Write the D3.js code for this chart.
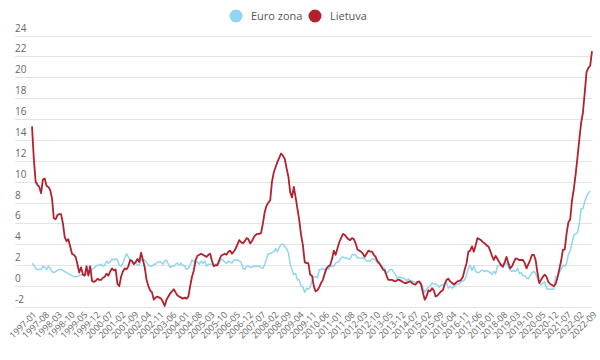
<!DOCTYPE html>
<html>
<head>
<meta charset="utf-8">
<script src="https://cdn.jsdelivr.net/npm/d3@7"></script>
<style>
  body { margin: 0; background: #fff; }
  svg { font-family: "Open Sans", "Noto Sans", sans-serif; }
</style>
</head>
<body>
<div class="chart"></div>
<script>
// monthly annual inflation, 1997-01 .. 2022-09
const startMonth = "1997-01";
const endMonth = "2022-09";
const seriesNames = ["Euro zona", "Lietuva"];
const colors = ["#92d5f0", "#b3202e"];
const yTicks = [-2, 0, 2, 4, 6, 8, 10, 12, 14, 16, 18, 20, 22, 24];
const labelEvery = 7;

const euroZona = [
  2.2, 2.0, 1.7, 1.6, 1.6, 1.6, 1.9, 1.8, 1.6, 1.9, 1.7, 1.4,
  1.3, 1.4, 1.5, 1.6, 1.6, 1.5, 1.4, 1.3, 1.2, 1.1, 1.0, 0.9,
  0.9, 0.9, 1.0, 1.1, 1.1, 1.0, 1.2, 1.3, 1.4, 1.6, 1.7, 1.9,
  2.0, 2.0, 2.1, 1.9, 2.0, 2.4, 2.2, 2.3, 2.6, 2.5, 2.6, 2.5,
  2.0, 1.9, 2.2, 2.7, 3.1, 2.8, 2.5, 2.3, 2.2, 2.3, 2.0, 2.0,
  2.6, 2.4, 2.5, 2.3, 2.0, 1.9, 1.9, 2.1, 2.1, 2.3, 2.3, 2.3,
  2.1, 2.4, 2.5, 2.1, 1.8, 1.9, 1.9, 2.1, 2.2, 2.0, 2.2, 2.0,
  1.9, 1.6, 1.7, 2.0, 2.5, 2.4, 2.3, 2.3, 2.1, 2.4, 2.2, 2.4,
  1.9, 2.1, 2.1, 2.1, 2.0, 2.1, 2.2, 2.2, 2.6, 2.5, 2.3, 2.2,
  2.4, 2.3, 2.2, 2.5, 2.5, 2.5, 2.4, 2.3, 1.7, 1.6, 1.9, 1.9,
  1.8, 1.8, 1.9, 1.9, 1.9, 1.9, 1.8, 1.7, 2.1, 2.6, 3.1, 3.1,
  3.2, 3.3, 3.6, 3.3, 3.7, 4.0, 4.0, 3.8, 3.6, 3.2, 2.1, 1.6,
  1.1, 1.2, 0.6, 0.6, 0.0, -0.1, -0.6, -0.2, -0.3, -0.1, 0.5, 0.9,
  0.9, 0.8, 1.6, 1.6, 1.7, 1.5, 1.7, 1.6, 1.9, 1.9, 1.9, 2.2,
  2.3, 2.4, 2.7, 2.8, 2.7, 2.7, 2.6, 2.6, 3.0, 3.0, 3.0, 2.7,
  2.7, 2.7, 2.7, 2.6, 2.4, 2.4, 2.4, 2.6, 2.6, 2.5, 2.2, 2.2,
  2.0, 1.8, 1.7, 1.2, 1.4, 1.6, 1.6, 1.3, 1.1, 0.7, 0.9, 0.8,
  0.8, 0.7, 0.5, 0.7, 0.5, 0.5, 0.4, 0.4, 0.3, 0.4, 0.3, -0.2,
  -0.6, -0.3, -0.1, 0.0, 0.3, 0.2, 0.2, 0.1, -0.1, 0.1, 0.1, 0.2,
  0.3, -0.2, 0.0, -0.2, -0.1, 0.1, 0.2, 0.2, 0.4, 0.5, 0.6, 1.1,
  1.7, 2.0, 1.5, 1.9, 1.4, 1.3, 1.3, 1.5, 1.5, 1.4, 1.5, 1.4,
  1.3, 1.1, 1.4, 1.2, 1.9, 2.0, 2.1, 2.0, 2.1, 2.2, 1.9, 1.5,
  1.4, 1.5, 1.4, 1.7, 1.2, 1.3, 1.0, 1.0, 0.8, 0.7, 1.0, 1.3,
  1.4, 1.2, 0.7, 0.3, 0.1, 0.3, 0.4, -0.2, -0.3, -0.3, -0.3, -0.3,
  0.9, 0.9, 1.3, 1.6, 2.0, 1.9, 2.2, 3.0, 3.4, 4.1, 4.9, 5.0,
  5.1, 5.9, 7.4, 7.4, 8.1, 8.6, 8.9, 9.1
];

const lietuva = [
  15.3, 12.2, 10.0, 9.7, 9.5, 8.9, 10.2, 10.3, 9.6, 9.5, 9.2, 8.4,
  6.5, 6.4, 6.8, 6.9, 6.9, 6.0, 4.7, 4.3, 4.5, 3.8, 3.1, 3.0,
  2.8, 2.1, 1.3, 1.8, 1.1, 1.0, 1.9, 1.0, 1.9, 0.5, 0.4, 0.5,
  0.7, 0.6, 0.6, 0.8, 0.9, 1.2, 1.0, 1.4, 1.7, 1.5, 1.6, 0.2,
  0.0, 0.9, 1.4, 1.7, 1.6, 1.9, 2.5, 2.4, 2.1, 2.3, 2.6, 2.3,
  3.2, 2.5, 1.8, 0.6, 0.0, -0.4, -0.6, -1.3, -1.1, -1.0, -1.1, -1.2,
  -1.5, -1.9, -1.3, -1.0, -0.7, -0.5, -0.3, -0.6, -0.9, -1.0, -1.1, -1.2,
  -1.1, -1.2, -1.0, 0.0, 0.9, 1.5, 2.5, 2.9, 3.0, 3.1, 3.0, 2.9,
  2.8, 3.0, 3.1, 2.4, 1.9, 2.0, 2.0, 2.5, 2.9, 3.0, 3.1, 3.0,
  3.3, 3.4, 3.1, 3.3, 3.6, 4.0, 4.4, 4.2, 4.1, 4.3, 4.6, 4.5,
  4.1, 4.3, 4.7, 4.9, 5.0, 5.0, 5.1, 6.0, 7.1, 7.7, 8.0, 8.2,
  10.0, 10.9, 11.4, 11.9, 12.3, 12.7, 12.5, 12.2, 11.3, 10.5, 9.0, 8.5,
  9.5, 8.5, 7.4, 6.3, 4.9, 3.9, 2.3, 2.2, 2.2, 1.1, 1.0, 0.0,
  -0.5, -0.4, -0.1, 0.3, 0.6, 1.2, 1.7, 1.9, 2.0, 2.6, 3.4, 3.0,
  3.6, 4.2, 4.6, 5.0, 4.9, 4.7, 4.5, 4.4, 4.6, 4.5, 4.1, 3.5,
  3.4, 3.3, 3.1, 2.8, 3.1, 3.4, 3.3, 3.3, 3.0, 2.8, 2.4, 2.2,
  1.9, 1.6, 1.5, 1.0, 0.6, 0.6, 0.6, 0.5, 0.45, 0.6, 0.6, 0.5,
  0.4, 0.3, 0.3, 0.4, 0.45, 0.3, 0.2, 0.15, 0.4, 0.45, 0.15, -0.6,
  -1.3, -1.0, -0.4, -0.5, -0.2, -0.4, -1.0, -0.9, -0.7, -0.5, -0.4, 0.2,
  0.6, 0.7, 0.45, 0.3, 0.15, 0.3, 0.45, 0.5, 0.6, 0.9, 1.6, 2.2,
  3.3, 3.4, 3.8, 3.3, 3.9, 4.6, 4.5, 4.4, 4.2, 4.1, 3.9, 3.8,
  3.4, 2.9, 2.5, 2.9, 2.6, 2.3, 2.0, 1.85, 2.3, 2.8, 2.2, 1.7,
  1.9, 2.3, 2.65, 2.6, 2.5, 2.5, 2.5, 2.2, 1.7, 2.1, 2.5, 3.0,
  3.0, 2.5, 1.3, 0.3, 0.6, 0.9, 1.1, 0.9, 0.4, 0.2, 0.1, 0.0,
  0.2, 0.8, 1.6, 2.4, 3.5, 3.5, 5.0, 6.1, 6.4, 8.2, 9.3, 10.7,
  12.3, 14.0, 15.6, 16.6, 18.5, 20.5, 20.9, 21.1, 22.5
];

const fmt = d3.timeFormat("%Y-%m");
const parse = d3.timeParse("%Y-%m");
const months = d3.timeMonth.range(parse(startMonth), d3.timeMonth.offset(parse(endMonth), 1)).map(fmt);

const width = 600, height = 360;

const svg = d3.select(".chart").append("svg")
    .attr("width", width)
    .attr("height", height);

const x = d3.scalePoint()
    .domain(months)
    .range([32, 592]);

const y = d3.scaleLinear()
    .domain([-2, 24])
    .range([307, 35.5]);

// grid + y labels
const grid = svg.append("g");
grid.selectAll("line")
    .data(yTicks)
    .enter().append("line")
    .attr("x1", 15)
    .attr("x2", 592)
    .attr("y1", d => Math.round(y(d)) + 0.5)
    .attr("y2", d => Math.round(y(d)) + 0.5)
    .attr("stroke", "#e3e3e3")
    .attr("stroke-width", 1);

grid.selectAll("text")
    .data(yTicks)
    .enter().append("text")
    .attr("x", 15)
    .attr("y", d => y(d) - 4)
    .attr("fill", "#666")
    .style("font-size", "10px")
    .text(d => d);

// x labels
const xLabels = months.filter((m, i) => i % labelEvery === 0);
svg.append("g").selectAll("text")
    .data(xLabels)
    .enter().append("text")
    .attr("transform", d => "translate(" + (x(d) + 3) + ",313) rotate(-45)")
    .attr("text-anchor", "end")
    .attr("dy", "0.35em")
    .attr("fill", "#666")
    .style("font-size", "9px")
    .text(d => d);

// lines
const line = d3.line()
    .x((d, i) => x(months[i]))
    .y(d => y(d));

[euroZona, lietuva].forEach(function (values, k) {
    svg.append("path")
        .datum(values)
        .attr("d", line)
        .attr("fill", "none")
        .attr("stroke", colors[k])
        .attr("stroke-width", k === 0 ? 1.5 : 1.8)
        .attr("stroke-linejoin", "round");
});

// legend
const legendX = [236, 315];
const legend = svg.append("g").selectAll("g")
    .data(seriesNames)
    .enter().append("g")
    .attr("transform", (d, i) => "translate(" + legendX[i] + ",16)");

legend.append("circle")
    .attr("r", 6.5)
    .attr("fill", (d, i) => colors[i]);

legend.append("text")
    .attr("x", 15)
    .attr("dy", "0.35em")
    .attr("fill", "#555")
    .style("font-size", "11px")
    .text(d => d);
</script>
</body>
</html>
